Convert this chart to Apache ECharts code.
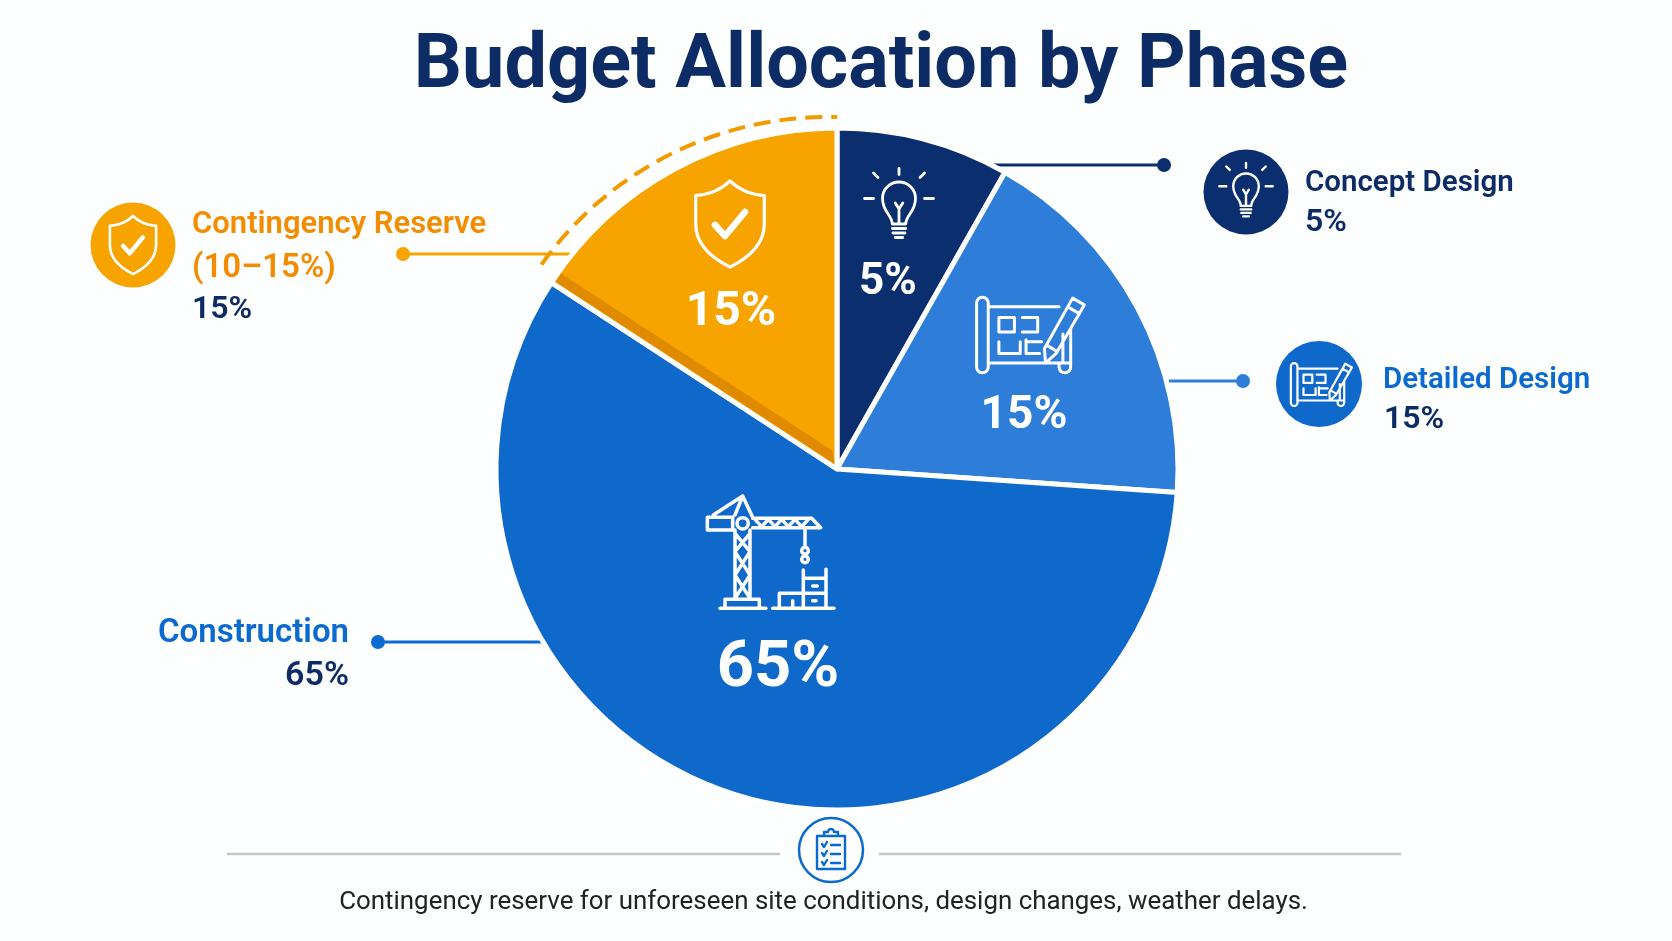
<!DOCTYPE html>
<html><head><meta charset="utf-8">
<style>html,body{margin:0;padding:0;background:#fdfefe}#c{width:1672px;height:941px}</style>
<script src="https://cdn.jsdelivr.net/npm/echarts@6/dist/echarts.min.js"></script>
</head><body><div id="c"></div>
<script>
const titleText = 'Budget Allocation by Phase';
const footerText = 'Contingency reserve for unforeseen site conditions, design changes, weather delays.';
const categories = ['Concept Design', 'Detailed Design', 'Construction', 'Contingency Reserve'];
// Percentages as printed on the chart.
const printedPercent = [5, 15, 65, 15];
// Share of the circle each slice actually occupies in the picture (the drawn
// slices are not proportional to their printed percentages).
const drawnShare = [8.2, 17.9, 58.1, 15.8];
const colors = ['#0b2f6e', '#2e7dd8', '#0f69cb', '#f7a400'];
const FONT = 'Roboto';
const NAVY = '#0d2c66', BLUE = '#0b6ad0', ORANGE = '#f28c00';
const CX = 837, CY = 469, R = 341;

const iconPaths = {
  bulb: 'M-9,24 C-9,12 -22,8 -22,-10 A22,22 0 1 1 22,-10 C22,8 9,12 9,24 Z M-9,30 H9 M-8,36 H8 M-5,42 H5 M0,24 V4 M0,4 L-5,-4 M0,4 L5,-4 M0,-42 V-50 M-28,-38 L-34,-44 M28,-38 L34,-44 M-34,-10 H-46 M34,-10 H46',
  shield: 'M0,-44 C10,-34 22,-30 35,-29 V0 C35,22 16,36 0,44 C-16,36 -35,22 -35,0 V-29 C-22,-30 -10,-34 0,-44 Z',
  check: 'M-15,0 L-5,11 L15,-13',
  plan: 'M-53,-32 A6,6 0 0 1 -41,-32 V32 M-53,-32 V34 A6,6 0 0 0 -41,34 L-41,32 M-41,-28 H32 M-41,30 H44 M36,0 V30 M44,-5 V34 A6,6 0 0 1 32,34 V30 M-30,-17 H-14 V-2 H-30 Z M-6,-17 H10 V-2 H-6 M-30,8 V20 H-8 V8 M-2,6 V20 H12 M-2,8 H14 M46,-37 L58,-30 L29,20 L18,30 L17,15 Z M41,-28 L53,-21 M20,12 L30,18',
  crane: 'M278,115 H455 L482,143 H278 M285,118 L305,140 L325,118 L345,140 L365,118 L385,140 L405,118 L425,140 L445,118 M142,112 H218 V150 H142 Z M160,105 L248,48 L278,112 M248,48 L225,105 M265,130 A17,17 0 1 1 231,130 A17,17 0 1 1 265,130 M225,150 V355 M270,150 V355 M225,160 L270,215 M270,160 L225,215 M225,215 L270,285 M270,215 L225,285 M225,285 L270,355 M270,285 L225,355 M195,382 V358 H298 V382 M180,385 H318 M435,145 V202 M445,212 A10,10 0 1 1 425,212 A10,10 0 1 1 445,212 M445,238 A10,10 0 1 1 425,238 A10,10 0 1 1 445,238 M338,385 H522 M358,385 V340 H498 M430,385 V270 M498,385 V268 M430,295 H498 M398,362 V378 M458,318 H472 M458,362 H468',
  clip: 'M-14,-14 H14 V19 H-14 Z M-7,-14 V-18 H-3 A3,3 0 0 1 3,-18 H7 V-14 Z M-9,-6 L-7,-3 L-4,-8 M-9,3 L-7,6 L-4,1 M-9,12 L-7,15 L-4,10 M0,-5 H9 M0,4 H9 M0,13 H9'
};
Object.keys(iconPaths).forEach(k => {
  echarts.graphic.registerShape('icon_' + k, echarts.graphic.extendPath(iconPaths[k], {}));
});

function icon(name, x, y, s, lw, color) {
  return {type:'icon_' + name, x, y, scaleX:s, scaleY:s, z:20, silent:true,
    style:{fill:'none', stroke:color||'#fff', lineWidth:lw/s, lineJoin:'round', lineCap:'round'}};
}
function disc(x, y, r, fill, stroke, lw) {
  return {type:'circle', z:15, silent:true, shape:{cx:x, cy:y, r}, style:{fill, stroke:stroke||null, lineWidth:lw||0}};
}
// y is the text baseline
function text(str, x, y, size, color, weight, align) {
  return {type:'text', z:20, silent:true, x, y:y - 0.77*size, style:{text:str, fill:color, font:(weight||600)+' '+size+'px '+FONT, textAlign:align||'left'}};
}
// (x, y) is the centre of the digits
function sliceText(str, x, y, size) {
  return text(str, x, y + 0.36*size, size, '#ffffff', 700, 'center');
}
function leader(x1, y, x2, color, w) {
  return [
    {type:'line', z:1, silent:true, shape:{x1, y1:y, x2, y2:y}, style:{stroke:color, lineWidth:w||3}},
    disc(x2, y, 7, color)
  ];
}
const pct = printedPercent.map(v => v + '%');

// Darker strip along the lower edge of the contingency slice, following the slice boundary.
const boundary = (drawnShare[0] + drawnShare[1] + drawnShare[2]) / 100 * 2 * Math.PI;
const stripPt = (r, off) => [
  CX + r*Math.sin(boundary) + off*Math.cos(boundary),
  CY - r*Math.cos(boundary) + off*Math.sin(boundary)
];

const graphics = [
  ...leader(575, 254, 403, '#f7a400'),
  ...leader(950, 165, 1164, '#0b2f6e'),
  ...leader(1140, 381, 1243, '#2e7dd8'),
  ...leader(575, 642, 378, BLUE),
  {type:'polygon', z:6, silent:true, shape:{points:[stripPt(5,3), stripPt(338,3), stripPt(338,13), stripPt(14,13)]}, style:{fill:'#e08a00'}},
  {type:'arc', z:5, silent:true, shape:{cx:828, cy:469, r:352, startAngle:215.5*Math.PI/180, endAngle:271.5*Math.PI/180, clockwise:true},
    style:{fill:'none', stroke:'#f29a00', lineWidth:4, lineDash:[17,9]}},
  disc(133, 245, 42.5, '#f7a400'),
  disc(1246, 192, 42.5, '#0b2f6e'),
  disc(1319, 384, 43, '#0f69cb'),
  icon('shield', 730, 224, 0.98, 3.2),
  icon('check', 730, 225, 1, 6.5),
  icon('bulb', 899, 206, 0.75, 2.8),
  icon('plan', 1028, 334, 0.97, 3),
  icon('crane', 660, 480, 1/3, 3.5),
  icon('shield', 133, 245, 0.66, 2.6),
  icon('check', 133, 246, 0.66, 4.5),
  icon('bulb', 1246, 192, 0.58, 2.4),
  icon('plan', 1320, 384, 0.55, 2.2),
  sliceText(pct[0], 888, 279, 44),
  sliceText(pct[1], 1024, 412, 46),
  sliceText(pct[2], 778, 664, 65),
  sliceText(pct[3], 731, 309, 48),
  text(categories[3], 192, 234, 31, ORANGE),
  text('(10–15%)', 192, 278, 33, ORANGE),
  text(pct[3], 192, 319, 32, NAVY),
  text(categories[0], 1305, 191, 29.5, NAVY),
  text(pct[0], 1305, 232, 32, NAVY),
  text(categories[1], 1383, 388, 29.5, BLUE),
  text(pct[1], 1384, 429, 32, NAVY),
  text(categories[2], 349, 643, 33, BLUE, 600, 'right'),
  text(pct[2], 349, 686, 34, NAVY, 600, 'right'),
  {type:'line', z:1, silent:true, shape:{x1:227, y1:854, x2:780, y2:854}, style:{stroke:'#c6c6c6', lineWidth:2.5}},
  {type:'line', z:1, silent:true, shape:{x1:879, y1:854, x2:1401, y2:854}, style:{stroke:'#c6c6c6', lineWidth:2.5}},
  disc(831, 850, 32, '#ffffff', BLUE, 2.5),
  icon('clip', 831, 850, 1, 2.4, BLUE),
  text(footerText, 823.5, 909, 25.9, '#222222', 400, 'center')
];

const option = {
  backgroundColor:'#fdfefe',
  animation:false,
  title:{text:titleText, left:876, textAlign:'center', top:25,
    textStyle:{fontFamily:FONT, fontWeight:700, fontSize:75.6, color:'#0d2c66'}},
  graphic:{elements:graphics},
  series:[
    {type:'pie', center:[CX,CY], radius:[0,R], startAngle:90, silent:true, z:3,
     itemStyle:{borderColor:'#ffffff', borderWidth:5},
     label:{show:false}, labelLine:{show:false},
     data:categories.map((name, i) => ({name, value:drawnShare[i], itemStyle:{color:colors[i]}}))}
  ]
};
const chart = echarts.init(document.getElementById('c'));
chart.setOption(option);
</script></body></html>
